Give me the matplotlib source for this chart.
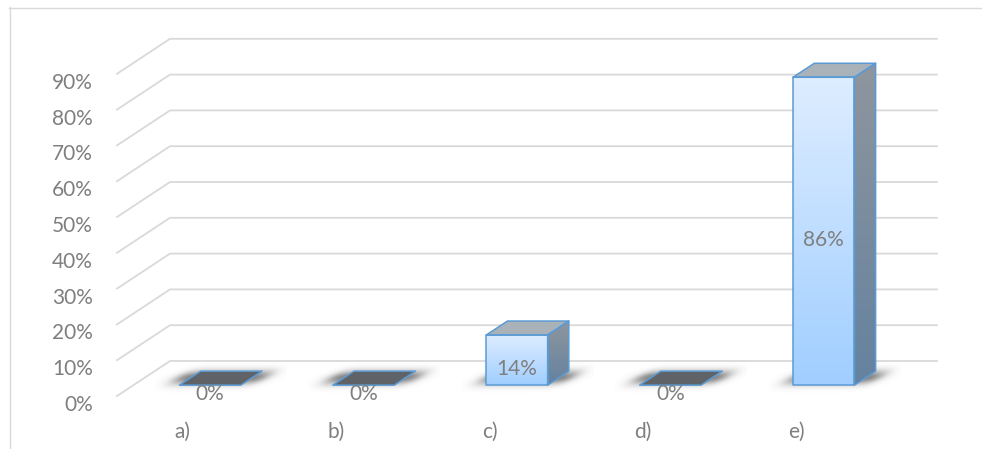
import numpy as np
import matplotlib
matplotlib.use("Agg")
import matplotlib.pyplot as plt
from matplotlib.patches import Polygon
from matplotlib.lines import Line2D

# ---- data -------------------------------------------------------------
categories = ["a)", "b)", "c)", "d)", "e)"]
shares = [0.00, 0.00, 0.14, 0.00, 0.86]
bar_labels = ["0%", "0%", "14%", "0%", "86%"]
tick_values = [0.0, 0.1, 0.2, 0.3, 0.4, 0.5, 0.6, 0.7, 0.8, 0.9]
tick_labels = ["0%", "10%", "20%", "30%", "40%", "50%", "60%", "70%", "80%", "90%"]

# ---- layout (pixels) --------------------------------------------------
W, H = 982, 449
WALL_LEFT, WALL_RIGHT = 170, 937      # back wall horizontal extent
BASE_Y = 361                          # back-wall 0% line
PX_PER_UNIT = 358                     # pixels for 100%
DEPTH_DX, DEPTH_DY = -53, 35          # shift from back wall to front of floor
BAR_WIDTH = 0.40                      # fraction of a category slot
BAR_FRONT, BAR_BACK = 0.69, 0.29      # bar depth span (0 = back, 1 = front)

TEXT = "#7f7f7f"
GRID = "#d9d9d9"
EDGE = "#5b9bd5"
FONT = ["Lato", "DejaVu Sans"]
FS = 15

n = len(categories)
SX = (WALL_RIGHT - WALL_LEFT) / n
ddx = DEPTH_DX / SX
ddy = -DEPTH_DY / PX_PER_UNIT


def proj(x, v, d):
    """Oblique projection: category x, value v, depth d -> axes data coords."""
    return x + d * ddx, v + d * ddy


fig = plt.figure(figsize=(W / 100, H / 100), dpi=100)
ax = fig.add_axes([0, 0, 1, 1])
ax.set_axis_off()

# chart frame
fig.add_artist(Line2D([9.5 / W, 9.5 / W], [0, 1 - 7 / H], transform=fig.transFigure,
                      color=GRID, lw=1.0))
fig.add_artist(Line2D([9 / W, 1], [1 - 7.5 / H, 1 - 7.5 / H], transform=fig.transFigure,
                      color=GRID, lw=1.0))

# gridlines: side wall diagonal + back wall horizontal
for v in tick_values:
    p0 = proj(-0.5, v, 1)
    p1 = proj(-0.5, v, 0)
    p2 = proj(n - 0.5, v, 0)
    ax.plot([p0[0], p1[0], p2[0]], [p0[1], p1[1], p2[1]], color=GRID, lw=1.3,
            solid_joinstyle="miter", zorder=1)

# y tick labels at the front-left corner
for v, lab in zip(tick_values, tick_labels):
    ax.annotate(lab, xy=proj(-0.5, v, 1), xytext=(-24, -9), textcoords="offset pixels",
                ha="right", va="center", fontsize=FS, color=TEXT, family=FONT)

# category labels along the front of the floor
for i, lab in enumerate(categories):
    ax.annotate(lab, xy=proj(i, 0, 1), xytext=(-11, -36), textcoords="offset pixels",
                ha="center", va="center", fontsize=FS, color=TEXT, family=FONT)


def gradient_face(verts, top_rgb, bot_rgb, z):
    poly = Polygon(verts, closed=True, facecolor="none", edgecolor="none", zorder=z)
    ax.add_patch(poly)
    xs = [p[0] for p in verts]
    ys = [p[1] for p in verts]
    t = np.linspace(0, 1, 256)[:, None, None]
    top = np.array(top_rgb)[None, None, :] / 255.0
    bot = np.array(bot_rgb)[None, None, :] / 255.0
    img = top + (bot - top) * t
    im = ax.imshow(img, extent=(min(xs), max(xs), min(ys), max(ys)), origin="upper",
                   aspect="auto", interpolation="bilinear", zorder=z)
    im.set_clip_path(poly)


def shadow(i, z):
    """Soft shadow around the bar footprint."""
    xl_f, y_f = proj(i - BAR_WIDTH / 2, 0, BAR_FRONT)
    xr_f, _ = proj(i + BAR_WIDTH / 2, 0, BAR_FRONT)
    xl_b, y_b = proj(i - BAR_WIDTH / 2, 0, BAR_BACK)
    pad_x, pad_y = 0.16, 0.04
    gx = np.linspace(xl_f - pad_x, xr_f + (xl_b - xl_f) + pad_x, 300)
    gy = np.linspace(y_b + pad_y, y_f - pad_y, 80)
    X, Y = np.meshgrid(gx, gy)
    t = (Y - y_b) / (y_f - y_b)
    left = xl_b + t * (xl_f - xl_b)
    u = (X - left) * SX                       # pixels from left edge of footprint
    wpx = (xr_f - xl_f) * SX
    vy = (Y - (y_b + y_f) / 2) * PX_PER_UNIT  # pixels from footprint centre row

    def sm(s):
        return 1.0 / (1.0 + np.exp(-s))

    a = sm((u + 12) / 4.0) * sm((wpx + 14 - u) / 4.0) * np.exp(-(vy / 7.0) ** 2)
    rgba = np.zeros(X.shape + (4,))
    rgba[..., :3] = 0.33
    rgba[..., 3] = 0.75 * a
    ax.imshow(rgba, extent=(gx[0], gx[-1], gy[-1], gy[0]), origin="upper",
              aspect="auto", interpolation="bilinear", zorder=z)


for i, v in enumerate(shares):
    x0, x1 = i - BAR_WIDTH / 2, i + BAR_WIDTH / 2
    shadow(i, 2)
    fbl = proj(x0, 0, BAR_FRONT)
    fbr = proj(x1, 0, BAR_FRONT)
    ftl = proj(x0, v, BAR_FRONT)
    ftr = proj(x1, v, BAR_FRONT)
    bbr = proj(x1, 0, BAR_BACK)
    btl = proj(x0, v, BAR_BACK)
    btr = proj(x1, v, BAR_BACK)
    top = [ftl, ftr, btr, btl]
    if v > 0:
        front = [fbl, fbr, ftr, ftl]
        side = [fbr, bbr, btr, ftr]
        gradient_face(front, (222, 237, 255), (160, 206, 255), 3)
        gradient_face(side, (143, 150, 158), (100, 130, 160), 3)
        ax.add_patch(Polygon(top, closed=True, facecolor="#a9b1b9", edgecolor="none", zorder=3))
        for face in (front, side, top):
            ax.add_patch(Polygon(face, closed=True, facecolor="none", edgecolor=EDGE,
                                 lw=1.1, joinstyle="round", zorder=4))
    else:
        ax.add_patch(Polygon(top, closed=True, facecolor="#5f6367", edgecolor=EDGE,
                             lw=1.1, joinstyle="round", zorder=4))

    # value label centred on the front face
    cx, cy = proj(i, v / 2, BAR_FRONT)
    ax.annotate(bar_labels[i], xy=(cx, cy), xytext=(0, -9), textcoords="offset pixels",
                ha="center", va="center", fontsize=FS, color=TEXT, family=FONT, zorder=6)

ax.set_xlim(-0.5 - WALL_LEFT / SX, -0.5 + (W - WALL_LEFT) / SX)
ax.set_ylim(-(H - BASE_Y) / PX_PER_UNIT, BASE_Y / PX_PER_UNIT)

fig.savefig("out.png", dpi=100, facecolor="white")
